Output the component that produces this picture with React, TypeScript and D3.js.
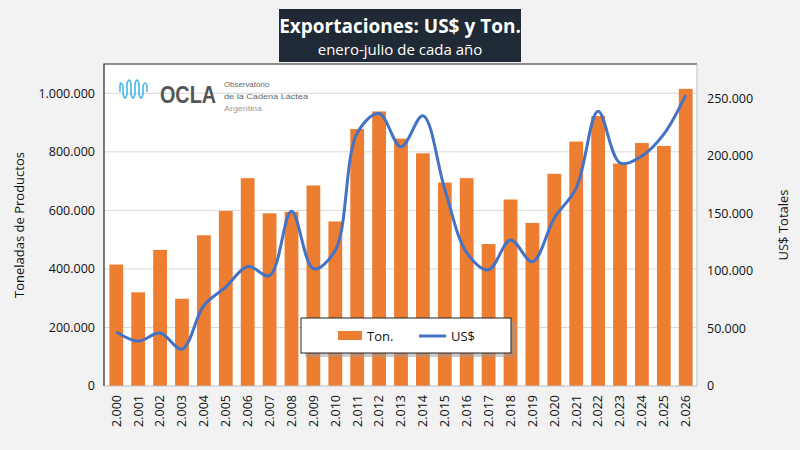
import React from "react";
import * as d3 from "d3";

const years = ["2.000","2.001","2.002","2.003","2.004","2.005","2.006","2.007","2.008","2.009","2.010","2.011","2.012","2.013","2.014","2.015","2.016","2.017","2.018","2.019","2.020","2.021","2.022","2.023","2.024","2.025","2.026"];
const tons = [415000,320000,465000,298000,515000,598000,710000,590000,595000,685000,562000,878000,938000,845000,795000,695000,710000,485000,637000,557000,725000,835000,922000,760000,830000,820000,1015000];
const usd = [47000,39000,46000,32000,70000,86000,104000,96000,152000,102000,118000,220000,237000,208000,235000,171000,116000,101000,127000,108000,146000,172000,239000,194000,200000,219000,253000];
const leftTicks = [0,200000,400000,600000,800000,1000000];
const rightTicks = [0,50000,100000,150000,200000,250000];

const fmt = (v: number) => d3.format(",")(v).replace(/,/g, ".");

export default function App() {
  const W = 800, H = 450;
  const L = 105, R = 697, T = 64, B = 386;
  const x = d3.scaleBand().domain(years).range([L, R]).paddingInner(0.37).paddingOuter(0.2);
  const yL = d3.scaleLinear().domain([0, 1100000]).range([B, T]);
  const yR = d3.scaleLinear().domain([0, 280000]).range([B, T]);
  const line = d3.line<number>().x((_, i) => x(years[i])! + x.bandwidth() / 2).y(d => yR(d)).curve(d3.curveCatmullRom.alpha(0.5));
  const font = "'Open Sans', sans-serif";
  const small = "'Liberation Sans', sans-serif";
  return (
    <svg width={W} height={H} style={{ position: "absolute", left: 0, top: 0 }} fontFamily={font}>
      <rect width={W} height={H} fill="#f2f2f2" />
      <rect x={L - 1} y={T} width={R - L + 1} height={B - T} fill="#fff" />
      <path d={`M${L - 1},${B} V${T} H${R}`} fill="none" stroke="#222" strokeWidth={1.2} />
      {leftTicks.slice(1).map(t => (
        <line key={t} x1={L} x2={R} y1={yL(t)} y2={yL(t)} stroke="#d9d9d9" />
      ))}
      {tons.map((v, i) => (
        <rect key={i} x={x(years[i])} y={yL(v)} width={x.bandwidth()} height={B - yL(v)} fill="#ed7d31" />
      ))}
      <line x1={L} x2={R} y1={B} y2={B} stroke="#bfbfbf" />
      <line x1={R} x2={R} y1={T} y2={B} stroke="#bfbfbf" />
      <path d={line(usd)!} fill="none" stroke="#4472c4" strokeWidth={3} />
      {leftTicks.map(t => (
        <text key={t} x={95} y={yL(t)} dy="0.35em" textAnchor="end" fontSize={12.5} fill="#111">{fmt(t)}</text>
      ))}
      {rightTicks.map(t => (
        <text key={t} x={707} y={yR(t)} dy="0.35em" fontSize={12.5} fill="#111">{fmt(t)}</text>
      ))}
      {years.map(yr => (
        <text key={yr} transform={`translate(${x(yr)! + x.bandwidth() / 2},395) rotate(-90)`} dy="0.35em" textAnchor="end" fontSize={12.5} fill="#111">{yr}</text>
      ))}
      <text transform="translate(24,225) rotate(-90)" textAnchor="middle" fontSize={13} fill="#111">Toneladas de Productos</text>
      <text transform="translate(783,225) rotate(-90)" textAnchor="middle" dy="0.35em" fontSize={13} fill="#111">US$ Totales</text>
      {/* title */}
      <rect x={279} y={9} width={242} height={53} fill="#1f2a36" />
      <text x={400} y={33} textAnchor="middle" fontSize={19} fontWeight="bold" fill="#fff">Exportaciones: US$ y Ton.</text>
      <text x={400} y={55} textAnchor="middle" fontSize={15} fill="#fff">enero-julio de cada año</text>
      {/* logo */}
      <path d="M120,92 v-6 q0,-6 3,0 v8 q2,8 4,0 v-10 q2,-8 4,0 v10 q2,8 4,0 v-10 q2,-8 4,0 v10 q2,8 4,0 v-8 q2,-6 4,0 v6" fill="none" stroke="#3cb4e6" strokeWidth={1.5} />
      <text x={160} y={103} fontSize={24} fontWeight="bold" fill="#555" fontFamily={small} textLength={56} lengthAdjust="spacingAndGlyphs">OCLA</text>
      <text x={224} y={87} fontSize={8} fill="#666" fontFamily={small} textLength={45} lengthAdjust="spacingAndGlyphs">Observatorio</text>
      <text x={224} y={99} fontSize={8} fill="#666" fontFamily={small} textLength={84} lengthAdjust="spacingAndGlyphs">de la Cadena Láctea</text>
      <text x={224} y={111} fontSize={8} fill="#999" fontFamily={small} textLength={38} lengthAdjust="spacingAndGlyphs">Argentina</text>
      {/* legend */}
      <rect x={305} y={322} width={210} height={35} fill="#999" opacity={0.5} />
      <rect x={301} y={318} width={210} height={35} fill="#fff" stroke="#222" />
      <rect x={338} y={331} width={24} height={9} fill="#ed7d31" />
      <text x={367} y={336} dy="0.35em" fontSize={13} fill="#111">Ton.</text>
      <line x1={419} x2={446} y1={336} y2={336} stroke="#4472c4" strokeWidth={3} />
      <text x={451} y={336} dy="0.35em" fontSize={13} fill="#111">US$</text>
    </svg>
  );
}
